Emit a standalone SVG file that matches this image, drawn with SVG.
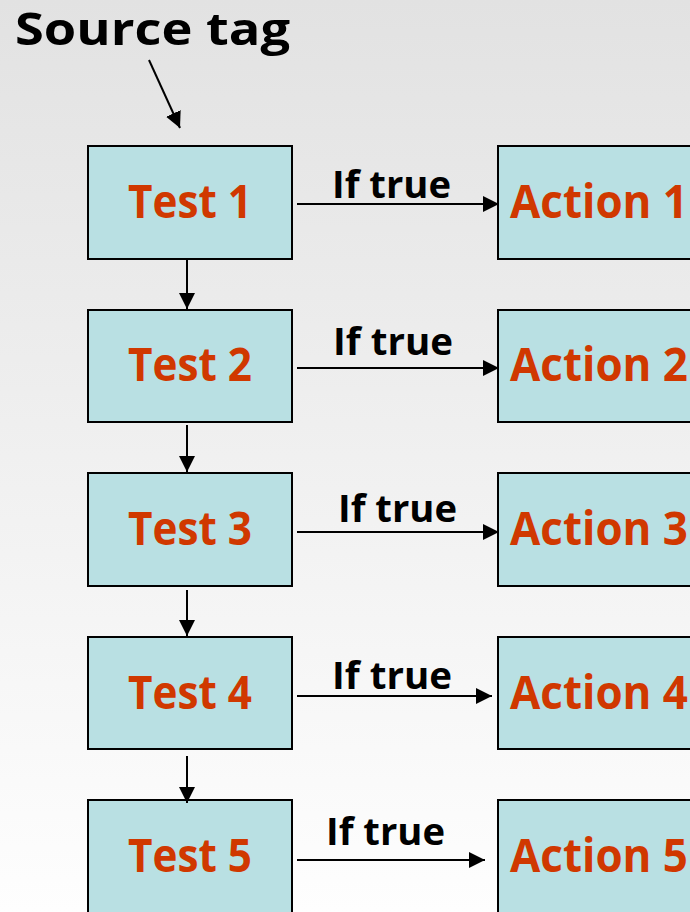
<svg xmlns="http://www.w3.org/2000/svg" width="690" height="912" viewBox="0 0 690 912">
<defs>
<linearGradient id="bg" x1="0" y1="0" x2="0" y2="1">
<stop offset="0" stop-color="#e2e2e2"/>
<stop offset="1" stop-color="#fefefe"/>
</linearGradient>
<marker id="ah" markerUnits="userSpaceOnUse" markerWidth="16" markerHeight="16" viewBox="0 0 10 10" refX="10" refY="5" orient="auto">
<path d="M0,0 L10,5 L0,10 z" fill="#000"/>
</marker>
</defs>
<style>
.box{fill:#b9e0e3;stroke:#000;stroke-width:2}
.lbl{font-family:"Open Sans",Lato,"Liberation Sans",sans-serif;font-weight:bold;fill:#d03800;font-size:47px}
.cond{font-family:"Open Sans",Lato,"Liberation Sans",sans-serif;font-weight:bold;fill:#000;font-size:38px}
.conn line{stroke:#000;stroke-width:2;marker-end:url(#ah)}
</style>
<rect x="0" y="0" width="690" height="912" fill="url(#bg)"/>
<text x="15" y="45" font-family="'Open Sans',Lato,'Liberation Sans',sans-serif" font-weight="bold" font-size="44" fill="#000" textLength="275" lengthAdjust="spacingAndGlyphs">Source tag</text>

<g id="test1"><rect class="box" x="88" y="146" width="204" height="113"/><text class="lbl" x="128" y="218" textLength="124" lengthAdjust="spacingAndGlyphs">Test 1</text></g>
<g id="test2"><rect class="box" x="88" y="310" width="204" height="112"/><text class="lbl" x="128" y="381" textLength="124" lengthAdjust="spacingAndGlyphs">Test 2</text></g>
<g id="test3"><rect class="box" x="88" y="473" width="204" height="113"/><text class="lbl" x="128" y="545" textLength="124" lengthAdjust="spacingAndGlyphs">Test 3</text></g>
<g id="test4"><rect class="box" x="88" y="637" width="204" height="112"/><text class="lbl" x="128" y="709" textLength="124" lengthAdjust="spacingAndGlyphs">Test 4</text></g>
<g id="test5"><rect class="box" x="88" y="800" width="204" height="130"/><text class="lbl" x="128" y="872" textLength="124" lengthAdjust="spacingAndGlyphs">Test 5</text></g>

<g id="action1"><rect class="box" x="498" y="146" width="220" height="113"/><text class="lbl" x="510" y="218" textLength="178" lengthAdjust="spacingAndGlyphs">Action 1</text></g>
<g id="action2"><rect class="box" x="498" y="310" width="220" height="112"/><text class="lbl" x="510" y="381" textLength="178" lengthAdjust="spacingAndGlyphs">Action 2</text></g>
<g id="action3"><rect class="box" x="498" y="473" width="220" height="113"/><text class="lbl" x="510" y="545" textLength="178" lengthAdjust="spacingAndGlyphs">Action 3</text></g>
<g id="action4"><rect class="box" x="498" y="637" width="220" height="112"/><text class="lbl" x="510" y="709" textLength="178" lengthAdjust="spacingAndGlyphs">Action 4</text></g>
<g id="action5"><rect class="box" x="498" y="800" width="220" height="130"/><text class="lbl" x="510" y="872" textLength="178" lengthAdjust="spacingAndGlyphs">Action 5</text></g>

<g id="connectors" class="conn">
<line x1="149" y1="60" x2="180" y2="128"/>
<line x1="187" y1="259" x2="187" y2="309"/>
<line x1="187" y1="425" x2="187" y2="472"/>
<line x1="187" y1="590" x2="187" y2="636"/>
<line x1="187" y1="756" x2="187" y2="803"/>
<line x1="297" y1="204" x2="499" y2="204"/>
<line x1="297" y1="368" x2="499" y2="368"/>
<line x1="297" y1="532" x2="499" y2="532"/>
<line x1="297" y1="696" x2="492" y2="696"/>
<line x1="297" y1="860" x2="485" y2="860"/>
<text class="cond" x="332" y="198" textLength="119" lengthAdjust="spacingAndGlyphs">If true</text>
<text class="cond" x="333" y="355" textLength="120" lengthAdjust="spacingAndGlyphs">If true</text>
<text class="cond" x="338" y="522" textLength="119" lengthAdjust="spacingAndGlyphs">If true</text>
<text class="cond" x="332" y="689" textLength="120" lengthAdjust="spacingAndGlyphs">If true</text>
<text class="cond" x="326" y="845" textLength="119" lengthAdjust="spacingAndGlyphs">If true</text>
</g>
</svg>
